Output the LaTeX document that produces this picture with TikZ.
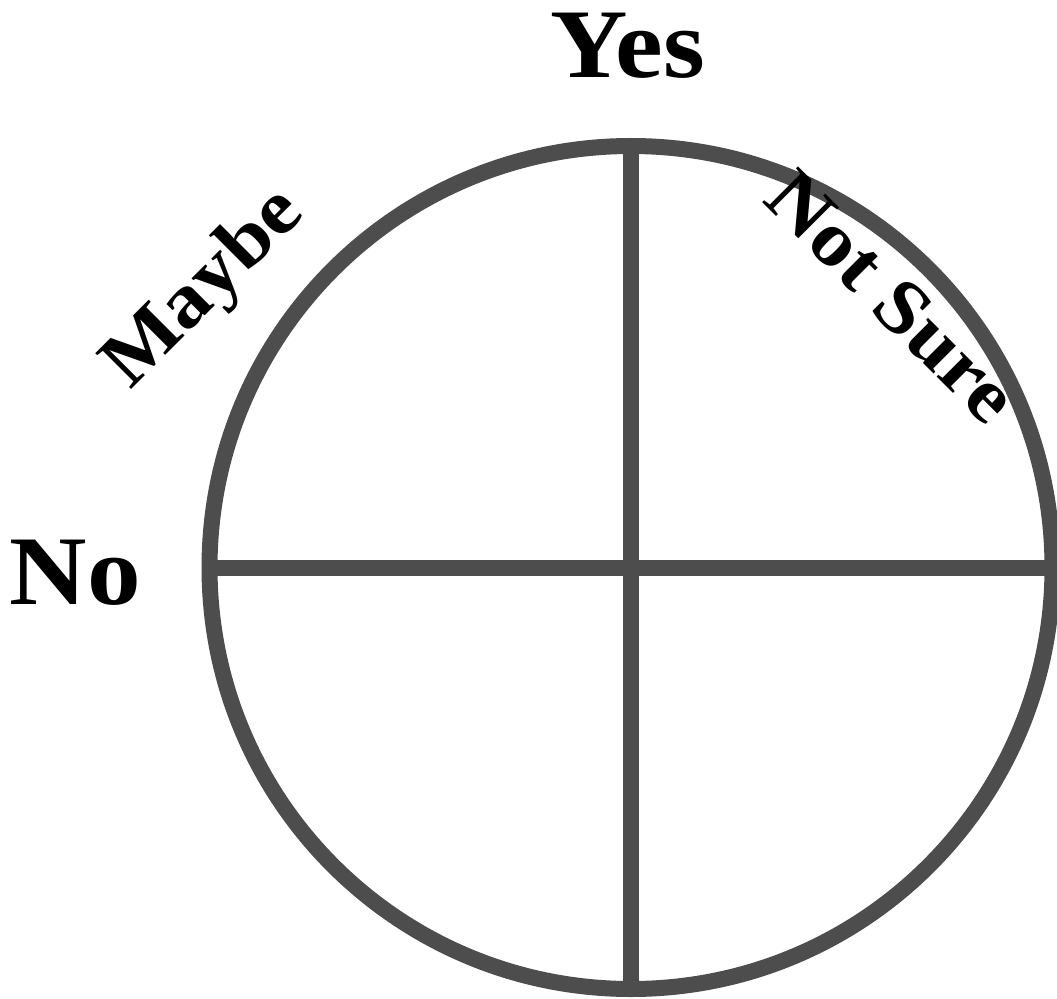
\documentclass[tikz,border=0pt]{standalone}
\usepackage{fontspec}
\setmainfont{Liberation Serif}[FakeStretch=1.09]
\usetikzlibrary{positioning}
\definecolor{Rim}{HTML}{4D4D4D}

\begin{document}
\begin{tikzpicture}[every node/.style={font=\bfseries}]
        \tikzstyle{rim}=[draw=Rim, line width=0.32cm]
        \tikzstyle{answer}=[inner sep=0pt, font=\fontsize{56}{60}\bfseries\selectfont]
        \tikzstyle{hedge}=[inner sep=0pt, font=\fontsize{44}{48}\bfseries\selectfont]
        \useasboundingbox (0,0) rectangle (21.14,19.96);
        \node[rim, circle, inner sep=0pt, outer sep=0pt, minimum size=16.86cm] (dial) at (12.62,8.61) {};
        \draw[rim] (dial.north) -- (dial.south);
        \draw[rim] (dial.west) -- (dial.east);
        \node[answer, anchor=base] (yes) at (12.55,18.4) {Yes};
        \node[answer, anchor=base] (no) at (1.51,7.88) {No};
        \node[hedge, rotate=45] (maybe) at (4.1,14.16) {Maybe};
        \node[hedge, rotate=-45] (notsure) at (17.84,14.02) {Not Sure};
      \end{tikzpicture}
\end{document}
